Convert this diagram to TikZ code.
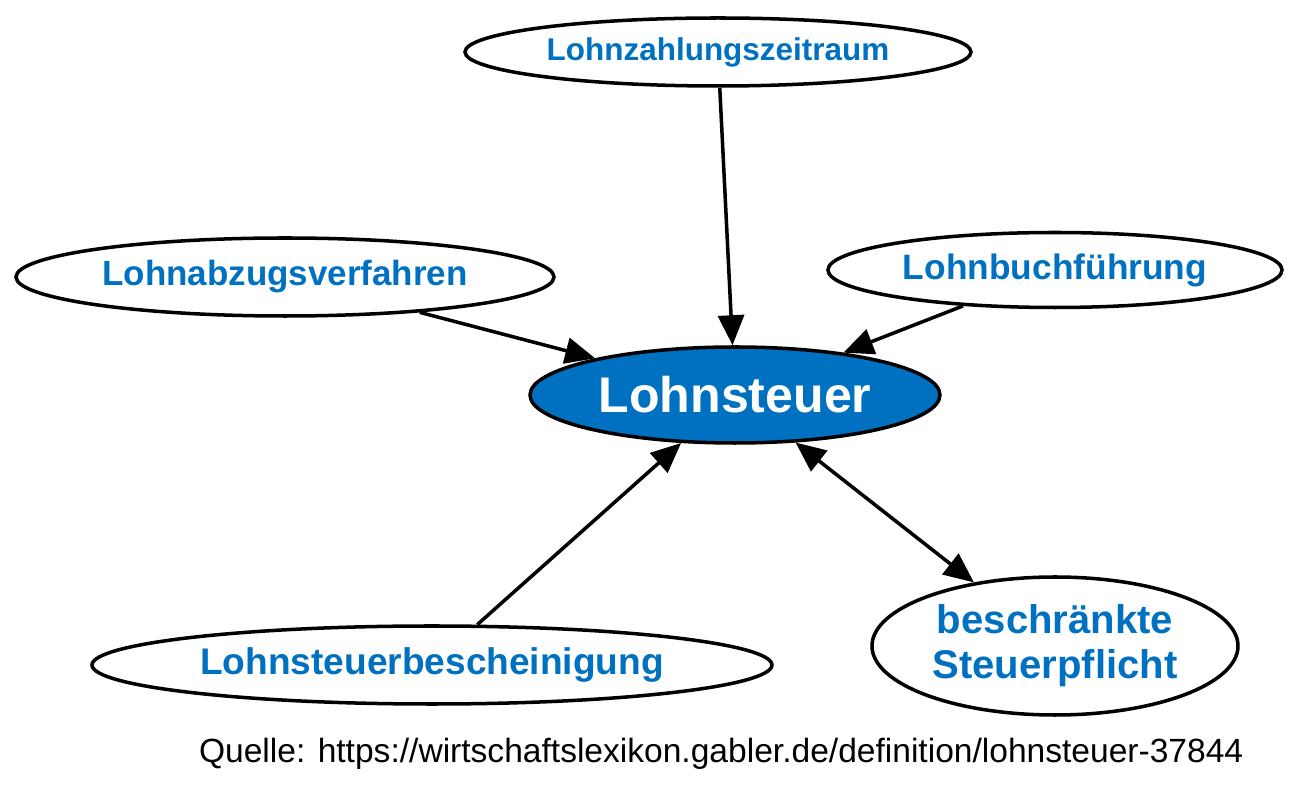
\documentclass[tikz,border=0pt]{standalone}
\usepackage{fontspec}
\setmainfont{Liberation Sans}
\usetikzlibrary{arrows.meta,shapes.geometric,positioning}
\definecolor{gablerblau}{HTML}{0070C0}

\begin{document}
\begin{tikzpicture}[>={Triangle[length=0.6cm,width=0.52cm]},line width=2pt,on grid,
   begriff/.style={ellipse,draw,inner sep=0pt,text=gablerblau},
   haupt/.style={begriff,fill=gablerblau,text=white}]
   \useasboundingbox (-14.7,-8.24) rectangle (11.3,7.9);
   \node[haupt,minimum width=8.2cm,minimum height=1.92cm,font=\bfseries\fontsize{28.5}{34}\selectfont] (steuer) at (0,0) {Lohnsteuer};
   \node[begriff,minimum width=10.12cm,minimum height=1.36cm,font=\bfseries\fontsize{17.9}{21}\selectfont] (zeitraum) [above left=6.86cm and 0.34cm of steuer] {Lohnzahlungszeitraum};
   \node[begriff,minimum width=10.76cm,minimum height=1.56cm,font=\bfseries\fontsize{19.9}{23}\selectfont] (abzug) [above left=2.36cm and 9cm of steuer] {Lohnabzugsverfahren};
   \node[begriff,minimum width=9.08cm,minimum height=1.5cm,font=\bfseries\fontsize{20.1}{23}\selectfont] (buch) [above right=2.5cm and 6.4cm of steuer] {Lohnbuchführung};
   \node[begriff,minimum width=13.6cm,minimum height=1.56cm,font=\bfseries\fontsize{21.1}{24}\selectfont] (bescheinigung) [below left=5.4cm and 6.06cm of steuer] {Lohnsteuerbescheinigung};
   \node[begriff,align=center,minimum width=7.32cm,minimum height=2.76cm,font=\bfseries\fontsize{22.8}{25.5}\selectfont] (pflicht) [below right=5.02cm and 6.4cm of steuer] {beschränkte\\Steuerpflicht};
   \node[inner sep=0pt,font=\fontsize{19.1}{22}\selectfont] (quelle) [below right=7.36cm and 10.2cm of steuer,anchor=base east] {Quelle: https://wirtschaftslexikon.gabler.de/definition/lohnsteuer-37844};

   \path[->] (zeitraum) edge (steuer);
   \path[->] (abzug) edge (steuer);
   \path[->] (buch) edge (steuer);
   \path[->] (bescheinigung) edge (steuer);
   \path[<->] (steuer) edge (pflicht);
\end{tikzpicture}
\end{document}
